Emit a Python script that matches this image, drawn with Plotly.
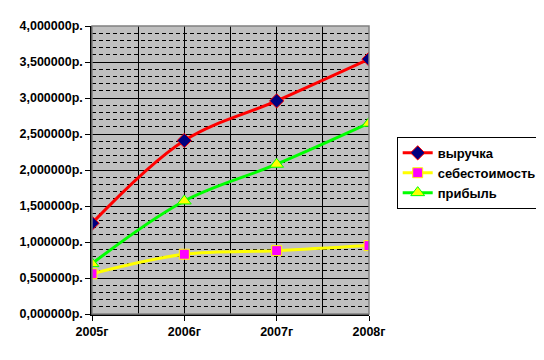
import plotly.graph_objects as go

years = ["2005г", "2006г", "2007г", "2008г"]
revenue = [1.26, 2.41, 2.96, 3.54]
cost = [0.56, 0.83, 0.88, 0.95]
profit = [0.70, 1.57, 2.08, 2.65]
ytick_vals = [0, 0.5, 1.0, 1.5, 2.0, 2.5, 3.0, 3.5, 4.0]
ytick_text = ["0,000000р.", "0,500000р.", "1,000000р.", "1,500000р.", "2,000000р.",
              "2,500000р.", "3,000000р.", "3,500000р.", "4,000000р."]

x = list(range(len(years)))
fam = "Arial, Liberation Sans"
tick_font = dict(family=fam, size=12.5, color="black", weight="bold")

fig = go.Figure()
fig.add_trace(go.Scatter(x=x, y=revenue, name="выручка", mode="lines+markers",
                         line=dict(color="#FF0000", width=3, shape="spline"),
                         marker=dict(symbol="diamond", size=11, color="#000080",
                                     line=dict(color="#FF0000", width=1))))
fig.add_trace(go.Scatter(x=x, y=cost, name="себестоимость", mode="lines+markers",
                         line=dict(color="#FFFF00", width=3, shape="spline"),
                         marker=dict(symbol="square", size=10, color="#FF00FF",
                                     line=dict(color="#FFFF00", width=1))))
fig.add_trace(go.Scatter(x=x, y=profit, name="прибыль", mode="lines+markers",
                         line=dict(color="#00FF00", width=3, shape="spline"),
                         marker=dict(symbol="triangle-up", size=12, color="#FFFF00",
                                     line=dict(color="#00FF00", width=1))))

fig.update_layout(
    width=536, height=352,
    margin=dict(l=84, r=175, t=18, b=46, autoexpand=False),
    paper_bgcolor="white", plot_bgcolor="#C0C0C0",
    font=dict(family=fam, size=11, color="black"),
    legend=dict(x=1.1, y=0.615, xanchor="left", yanchor="top",
                bordercolor="black", borderwidth=1, bgcolor="white",
                font=dict(family=fam, size=13, color="black", weight="bold"),
                tracegroupgap=0, itemwidth=30),
    showlegend=True,
    shapes=[dict(type="rect", xref="paper", yref="paper", x0=0, x1=1, y0=0, y1=1,
                 line=dict(color="#808080", width=1.5), layer="above")],
)
fig.update_xaxes(range=[0, 3], tickvals=x, ticktext=years, ticks="outside", ticklen=5,
                 tickcolor="black", showgrid=True, gridcolor="black", gridwidth=1,
                 showline=True, linecolor="black", linewidth=1.5, zeroline=False,
                 tickfont=tick_font, automargin=False,
                 minor=dict(dtick=0.5, tick0=0, showgrid=True, gridcolor="black", gridwidth=1, ticks=""))
fig.update_yaxes(range=[0, 4], tickvals=ytick_vals, ticktext=ytick_text, ticks="outside",
                 ticklen=5, tickcolor="black", showgrid=True, gridcolor="black", gridwidth=1,
                 showline=True, linecolor="black", linewidth=1.5, zeroline=False,
                 tickfont=tick_font, automargin=False,
                 minor=dict(dtick=0.1, tick0=0, showgrid=True, gridcolor="black", gridwidth=1,
                            griddash="4px,3px", ticks=""))

fig.write_html("out.html")
